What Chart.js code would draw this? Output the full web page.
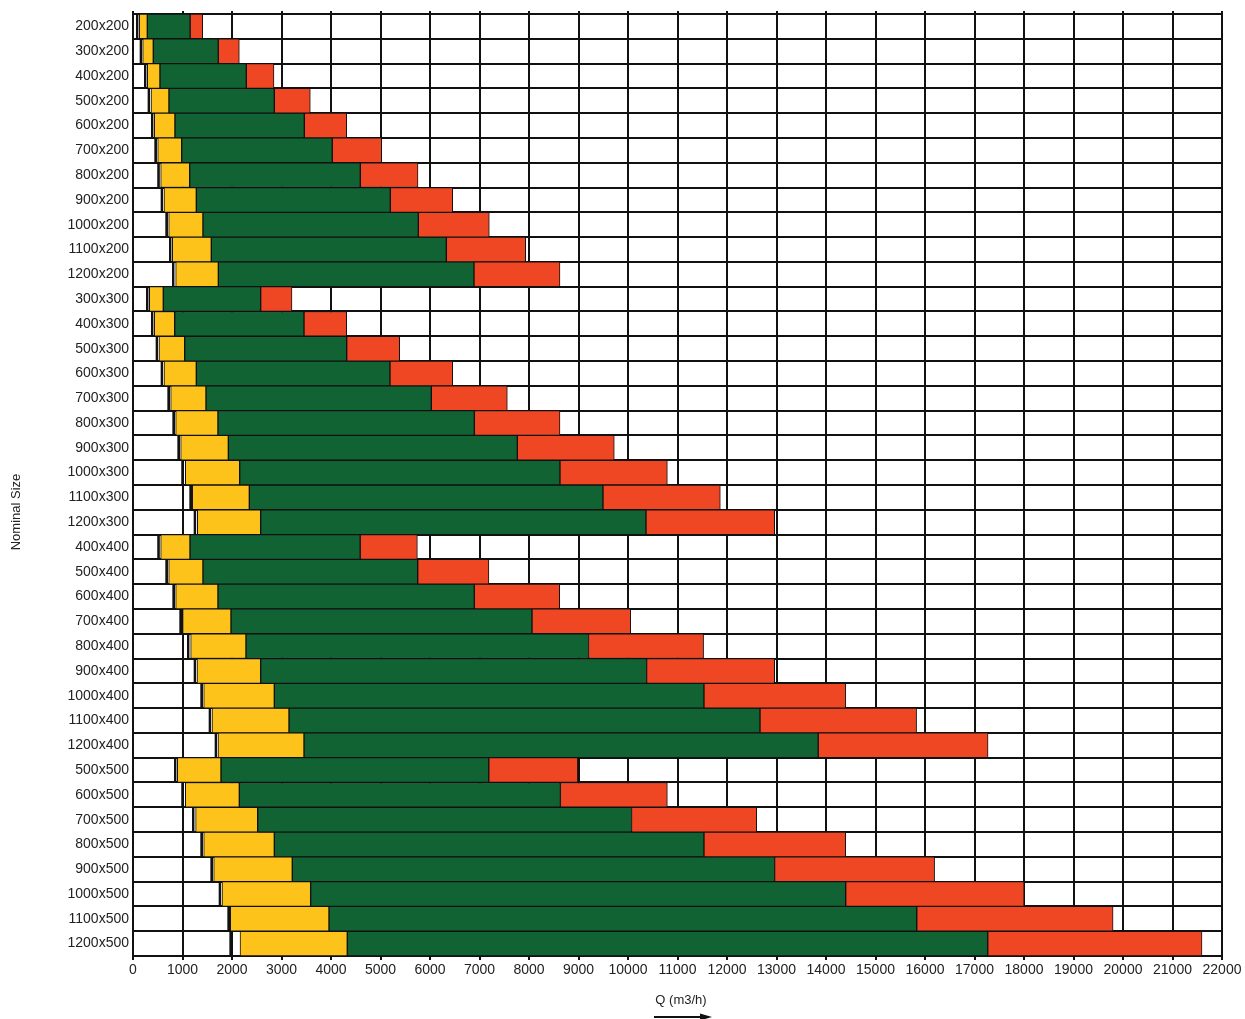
<!DOCTYPE html>
<html>
<head>
<meta charset="utf-8">
<script src="https://cdn.jsdelivr.net/npm/chart.js@4/dist/chart.umd.min.js"></script>
<style>
  html, body { margin: 0; padding: 0; background: #fff; }
  #wrap { width: 1245px; height: 1019px; position: relative; }
</style>
</head>
<body>
<div id="wrap"><canvas id="c"></canvas></div>
<script>
const categories = ["200x200","300x200","400x200","500x200","600x200","700x200","800x200","900x200","1000x200","1100x200","1200x200",
  "300x300","400x300","500x300","600x300","700x300","800x300","900x300","1000x300","1100x300","1200x300",
  "400x400","500x400","600x400","700x400","800x400","900x400","1000x400","1100x400","1200x400",
  "500x500","600x500","700x500","800x500","900x500","1000x500","1100x500","1200x500"];

const whiteEnd = [107,182,269,343,410,478,537,606,700,774,835,
  310,410,505,606,741,842,943,1022,1185,1273,
  537,700,842,983,1138,1273,1407,1576,1697,
  875,1022,1239,1407,1610,1778,1953,1994];

const yellowStart = [127,196,289,364,430,499,559,626,721,794,862,
  330,430,525,626,761,862,963,1057,1198,1300,
  559,721,862,1003,1165,1293,1428,1596,1717,
  895,1057,1265,1428,1630,1798,1966,2162];

const greenStart = [289,410,545,727,848,983,1145,1279,1414,1582,1724,
  612,842,1044,1279,1475,1717,1926,2155,2350,2579,
  1152,1414,1717,1980,2283,2579,2855,3152,3455,
  1778,2148,2519,2855,3218,3589,3960,4329];

const redStart = [1155,1723,2289,2855,3461,4026,4592,5198,5764,6330,6889,
  2579,3455,4317,5192,6027,6896,7764,8626,9495,10364,
  4590,5752,6895,8061,9202,10376,11535,12667,13843,
  7188,8634,10071,11535,12962,14398,15834,17268];

const redEnd = [1408,2148,2848,3582,4317,5024,5758,6458,7198,7933,8626,
  3212,4317,5387,6458,7562,8626,9723,10795,11865,12963,
  5745,7190,8620,10055,11527,12963,14400,15830,17274,
  8986,10795,12600,14398,16194,18002,19800,21596];

const xTicks = [0,1000,2000,3000,4000,5000,6000,7000,8000,9000,10000,11000,12000,13000,14000,15000,16000,17000,18000,19000,20000,21000,22000];

const FONT = '"Liberation Sans", Arial, Helvetica, sans-serif';
const LINE = '#111111';

function seg(a, b) { return categories.map((c, i) => [a[i], b[i]]); }
const zeros = categories.map(() => 0);

const common = { borderColor: LINE, borderWidth: 1, borderSkipped: false, grouped: false,
  categoryPercentage: 1, barPercentage: 1 };

const extras = {
  id: 'extras',
  afterDraw(chart) {
    const ctx = chart.ctx;
    const area = chart.chartArea;
    const xs = chart.scales.x;
    ctx.save();
    ctx.strokeStyle = LINE;
    ctx.lineWidth = 2;
    xTicks.forEach(v => {
      const px = Math.round(xs.getPixelForValue(v));
      ctx.beginPath();
      ctx.moveTo(px, area.top - 3);
      ctx.lineTo(px, area.top);
      ctx.stroke();
    });
    ctx.fillStyle = '#222';
    ctx.font = '13px ' + FONT;
    ctx.textAlign = 'center';
    ctx.textBaseline = 'middle';
    ctx.fillText('Q (m3/h)', 681, 1000);
    ctx.lineWidth = 2;
    ctx.strokeStyle = '#111';
    ctx.beginPath();
    ctx.moveTo(654, 1017);
    ctx.lineTo(704, 1017);
    ctx.stroke();
    ctx.fillStyle = '#111';
    ctx.beginPath();
    ctx.moveTo(712, 1017);
    ctx.lineTo(700, 1013.5);
    ctx.lineTo(700, 1020.5);
    ctx.closePath();
    ctx.fill();
    ctx.fillStyle = '#222';
    ctx.translate(16, 512);
    ctx.rotate(-Math.PI / 2);
    ctx.fillText('Nominal Size', 0, 0);
    ctx.restore();
  }
};

new Chart(document.getElementById('c'), {
  type: 'bar',
  data: {
    labels: categories,
    datasets: [
      Object.assign({ label: 'red', data: seg(redStart, redEnd), backgroundColor: '#EF4624' }, common),
      Object.assign({ label: 'green', data: seg(greenStart, redStart), backgroundColor: '#126334' }, common),
      Object.assign({ label: 'yellow', data: seg(yellowStart, greenStart), backgroundColor: '#FEC31A' }, common),
      Object.assign({ label: 'white', data: seg(zeros, whiteEnd), backgroundColor: 'rgba(255,255,255,0)' }, common,
        { borderWidth: { left: 0, top: 0, bottom: 0, right: 2 } })
    ]
  },
  options: {
    indexAxis: 'y',
    responsive: true,
    maintainAspectRatio: false,
    animation: false,
    layout: { padding: { left: 0, right: 23, top: 14, bottom: 0 } },
    plugins: { legend: { display: false }, tooltip: { enabled: false } },
    scales: {
      x: {
        type: 'linear',
        min: 0, max: 22000,
        afterBuildTicks: s => { s.ticks = xTicks.map(v => ({ value: v })); },
        afterFit: s => { s.height = 63; },
        grid: { color: LINE, lineWidth: 2, drawTicks: true, tickLength: 4, tickColor: LINE },
        border: { color: LINE, width: 2 },
        ticks: { autoSkip: false, maxRotation: 0, padding: 2, color: '#222',
          font: { family: FONT, size: 14 },
          callback: v => String(v) }
      },
      y: {
        type: 'category',
        offset: true,
        afterFit: s => { s.width = 133; },
        grid: { offset: true, color: LINE, lineWidth: 2, drawTicks: false },
        border: { color: LINE, width: 2 },
        ticks: { autoSkip: false, padding: 4, color: '#222', font: { family: FONT, size: 14 } }
      }
    }
  },
  plugins: [extras]
});
</script>
</body>
</html>
